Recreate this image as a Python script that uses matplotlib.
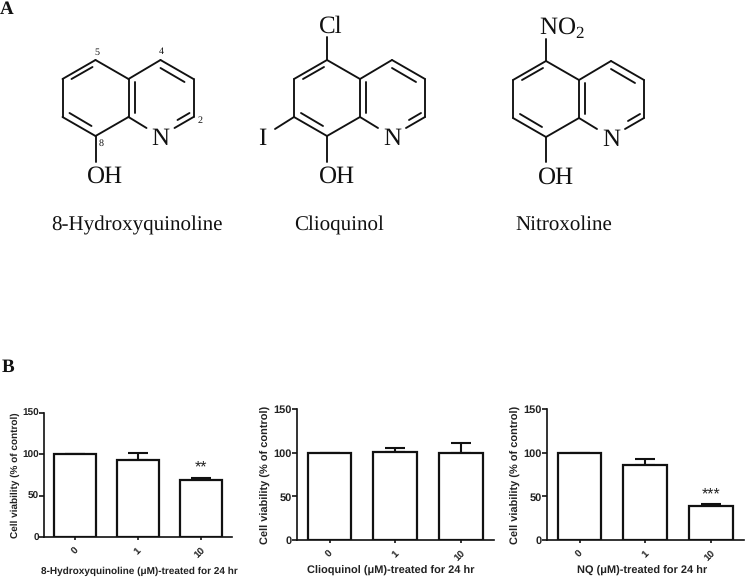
import matplotlib
matplotlib.use('Agg')
import matplotlib.pyplot as plt

W, H = 745, 579

plt.rcParams['font.family'] = ['Liberation Sans', 'DejaVu Sans']
plt.rcParams['mathtext.fontset'] = 'custom'
plt.rcParams['mathtext.rm'] = 'Liberation Serif'
plt.rcParams['text.hinting'] = 'no_hinting'
plt.rcParams['text.hinting_factor'] = 1

# bar chart data
doses = ['0', '1', '10']
hq_values = [100, 93.5, 68.5]
hq_errors = [0, 8, 3.2]
clioquinol_values = [100, 100.5, 100]
clioquinol_errors = [0, 5.5, 11.5]
nq_values = [100, 86.5, 39]
nq_errors = [0, 6, 2]

# molecule skeleton, offsets in px from the top fusion carbon
ring_bonds = [
    ((0, 0), (-33, -19)), ((-33, -19), (-66, 0)), ((-66, 0), (-66, 38)),
    ((-66, 38), (-33, 57)), ((-33, 57), (0, 38)), ((0, 38), (0, 0)),
    ((0, 0), (32, -19)), ((32, -19), (65, 0)), ((65, 0), (65, 38)),
    ((65, 38), (46, 49)), ((0, 38), (18, 49)),
]
inner_bonds = [
    ((-57, 0), (-36, -12)), ((-59, 34), (-37, 47)), ((6, 3), (6, 34)),
    ((32, -11), (56, 3)), ((49, 41), (61, 34)),
]

fig = plt.figure(figsize=(W / 100, H / 100), dpi=100)
overlay = fig.add_axes([0, 0, 1, 1])
overlay.set_xlim(0, W)
overlay.set_ylim(H, 0)
overlay.axis('off')


def serif(x, y, s, size=18, **kw):
    overlay.text(x, y + size * 0.11, s, fontsize=size, family='Liberation Serif', ha='center', va='center', color='#111111', **kw)


def bond(x1, y1, x2, y2):
    overlay.plot([x1, x2], [y1, y2], color='#111111', lw=1.35, solid_capstyle='round')


def molecule(x0, y0):
    for (a, b), (c, d) in ring_bonds + inner_bonds:
        bond(x0 + a, y0 + b, x0 + c, y0 + d)


serif(7, 8, 'A', size=14, weight='bold')
serif(8, 366, 'B', size=14, weight='bold')

# 8-hydroxyquinoline
molecule(128.5, 79)
bond(95.5, 136, 95.5, 162)
serif(104.7, 174.5, 'OH')
serif(160.7, 137, 'N')
serif(137, 224, '8-Hydroxyquinoline', size=15)
for nx, ny, label in [(97, 52, '5'), (161, 51, '4'), (200, 120, '2'), (101, 143, '8')]:
    serif(nx, ny, label, size=7.5)

# clioquinol
molecule(360, 79)
bond(327, 136, 327, 162)
bond(327, 60, 327, 37)
bond(294, 117, 275, 129)
serif(331, 24.5, 'Cl')
serif(262, 137, 'I')
serif(336.7, 175, 'OH')
serif(392.3, 137, 'N')
serif(339.3, 223.5, 'Clioquinol', size=15)

# nitroxoline
molecule(579, 80)
bond(546, 137, 546, 162)
bond(546, 61, 546, 39)
serif(561.7, 26, 'NO$_2$')
serif(556, 176, 'OH')
serif(611.7, 138, 'N')
serif(563.3, 223.5, 'Nitroxoline', size=15)


def panel(left, right, y0, y150, values, errors, xlabel, xlab_xy, ylab_xy, text_size, stars=None, star_y=0):
    ax = fig.add_axes([left / W, 1 - y0 / H, (right - left) / W, (y0 - y150) / H])
    ax.patch.set_alpha(0)
    pos = range(len(values))
    ax.bar(pos, values, width=0.67, color='white', edgecolor='#111111', linewidth=1.6, zorder=3)
    ax.errorbar(pos, values, yerr=[[0] * len(errors), errors], fmt='none', ecolor='#111111',
                elinewidth=1.5, capsize=7.5, capthick=1.5, zorder=2)
    ax.set_xlim(-0.5, 2.5)
    ax.set_ylim(0, 150)
    ax.set_yticks([0, 50, 100, 150])
    ax.set_xticks(list(pos))
    ax.set_xticklabels(doses, rotation=45, ha='center', va='top', fontsize=7.2, fontweight='bold', color='#222222')
    ax.tick_params(axis='y', labelsize=text_size, length=3.5, width=1.1, pad=0.3, labelcolor='#222222')
    ax.tick_params(axis='x', length=2.5, width=1.1, pad=4)
    for lab in ax.get_yticklabels():
        lab.set_fontweight('bold')
    for side in ['top', 'right']:
        ax.spines[side].set_visible(False)
    for side in ['left', 'bottom']:
        ax.spines[side].set_linewidth(1.2)
        ax.spines[side].set_color('#111111')
    overlay.text(xlab_xy[0], xlab_xy[1], xlabel, fontsize=text_size + 0.2, fontweight='bold', ha='center', va='center', color='#222222')
    overlay.text(ylab_xy[0], ylab_xy[1], 'Cell viability (% of control)', fontsize=text_size + 0.2, fontweight='bold',
                 rotation=90, ha='center', va='center', color='#222222')
    if stars:
        ax.text(2, star_y, stars, ha='center', va='center', fontsize=11.5, color='#222222')


panel(44, 232, 537.3, 412.7, hq_values, hq_errors, '8-Hydroxyquinoline (\u03bcM)-treated for 24 hr',
      (139, 571.7), (15, 475), 7.1, '**', 84)
panel(296.7, 493.5, 540, 409.3, clioquinol_values, clioquinol_errors, 'Clioquinol (\u03bcM)-treated for 24 hr',
      (390.7, 571), (266, 474.5), 7.8)
panel(546.7, 743.5, 540, 409.3, nq_values, nq_errors, 'NQ (\u03bcM)-treated for 24 hr',
      (641.7, 571), (515.7, 475), 7.8, '***', 53)

fig.savefig('out.png', dpi=100)
